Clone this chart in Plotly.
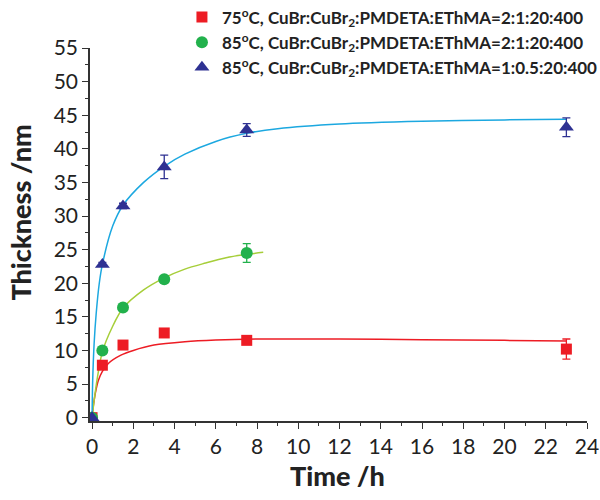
import plotly.graph_objects as go

# Measured film thickness (nm) vs polymerization time (h)
time_a = [0, 0.5, 1.5, 3.5, 7.5, 23]
thick_75 = [0, 7.8, 10.8, 12.6, 11.5, 10.2]
err_75 = [0, 0.2, 0.2, 0.2, 0.2, 1.5]

time_b = [0, 0.5, 1.5, 3.5, 7.5]
thick_85 = [0, 10.0, 16.4, 20.6, 24.5]
err_85 = [0, 0.2, 0.4, 0.3, 1.4]

time_c = [0, 0.5, 1.5, 3.5, 7.5, 23]
thick_85b = [0, 22.8, 31.5, 37.3, 42.8, 43.2]
err_85b = [0, 0.3, 0.4, 1.75, 0.95, 1.4]

# Fitted growth curves (sampled)
fit_75_t = [0, 0.05, 0.15, 0.3, 0.5, 0.8, 1.4, 2.0, 3.0, 4.5, 6, 8, 12, 16, 20, 23]
fit_75_y = [0, 1.5, 3.5, 5.5, 6.9, 8.1, 9.3, 10.0, 10.8, 11.3, 11.55, 11.7, 11.7, 11.6, 11.5, 11.4]

fit_85_t = [0, 0.1, 0.25, 0.5, 1.0, 1.5, 2.5, 3.5, 4.5, 5.5, 6.5, 7.5, 8.3]
fit_85_y = [0, 2.5, 5.8, 9.8, 13.6, 16.3, 19.0, 20.8, 22.1, 23.0, 23.8, 24.3, 24.6]

fit_85b_t = [0, 0.03, 0.1, 0.2, 0.35, 0.5, 1.0, 1.5, 2.5, 3.5, 4.5, 6, 7.5, 9, 12, 16, 20, 23]
fit_85b_y = [0, 5.5, 11.0, 15.5, 20.0, 22.8, 28.5, 31.6, 35.0, 37.4, 39.2, 41.1, 42.3, 43.0, 43.7, 44.1, 44.3, 44.4]

labels = [
    "75<sup>o</sup>C, CuBr:CuBr<sub>2</sub>:PMDETA:EThMA=2:1:20:400",
    "85<sup>o</sup>C, CuBr:CuBr<sub>2</sub>:PMDETA:EThMA=2:1:20:400",
    "85<sup>o</sup>C, CuBr:CuBr<sub>2</sub>:PMDETA:EThMA=1:0.5:20:400",
]
x_title = "Time /h"
y_title = "Thickness /nm"

RED, GREEN, NAVY = "#ED1C24", "#22B14C", "#2E3192"
RED_L, GREEN_L, CYAN_L = "#ED1C24", "#A6CE39", "#1CA8E0"

fig = go.Figure()

for t, y, c in [(fit_75_t, fit_75_y, RED_L), (fit_85_t, fit_85_y, GREEN_L), (fit_85b_t, fit_85b_y, CYAN_L)]:
    fig.add_trace(go.Scatter(x=t, y=y, mode="lines", line=dict(color=c, width=1.5, shape="spline", smoothing=0.8),
                             showlegend=False, hoverinfo="skip"))

series = [
    (time_a, thick_75, err_75, RED, "square", 11, labels[0]),
    (time_b, thick_85, err_85, GREEN, "circle", 12, labels[1]),
    (time_c, thick_85b, err_85b, NAVY, "triangle-up", 13, labels[2]),
]
for t, y, e, c, sym, sz, name in series:
    fig.add_trace(go.Scatter(
        x=t, y=y, mode="markers", name=name,
        marker=dict(color=c, symbol=sym, size=sz),
        error_y=dict(type="data", array=e, visible=True, color=c, thickness=1.3, width=4),
    ))

axis_common = dict(
    showline=True, linecolor="#333333", linewidth=1.5,
    ticks="outside", ticklen=6, tickwidth=1.3, tickcolor="#333333",
    showgrid=False, zeroline=False,
    tickfont=dict(family="Lato", size=21, color="#222222"),
)

fig.update_xaxes(range=[-0.1, 24], tick0=0, dtick=2,
                 minor=dict(ticks="outside", ticklen=3, tickwidth=1.2, tickcolor="#333333", dtick=1),
                 **axis_common)
fig.update_yaxes(range=[-0.5, 55], tick0=0, dtick=5,
                 minor=dict(ticks="outside", ticklen=3, tickwidth=1.2, tickcolor="#333333", dtick=2.5),
                 **axis_common)

title_font = dict(family="Lato", size=27, color="#222222", weight=900)
fig.add_annotation(text=x_title, xref="paper", yref="paper", x=0.497, y=-0.145,
                   xanchor="center", yanchor="middle", showarrow=False, font=title_font)
fig.add_annotation(text=y_title, xref="paper", yref="paper", x=-0.14, y=0.56, textangle=-90,
                   xanchor="center", yanchor="middle", showarrow=False, font=title_font)

fig.update_layout(
    width=600, height=500,
    margin=dict(l=90, r=13, t=48, b=79, autoexpand=False),
    paper_bgcolor="white", plot_bgcolor="white",
    legend=dict(x=0.185, y=1.13, xanchor="left", yanchor="top",
                font=dict(family="Lato", size=17, color="#222222", weight=700),
                bgcolor="rgba(0,0,0,0)", tracegroupgap=0),
)

fig.write_html("out.html")
